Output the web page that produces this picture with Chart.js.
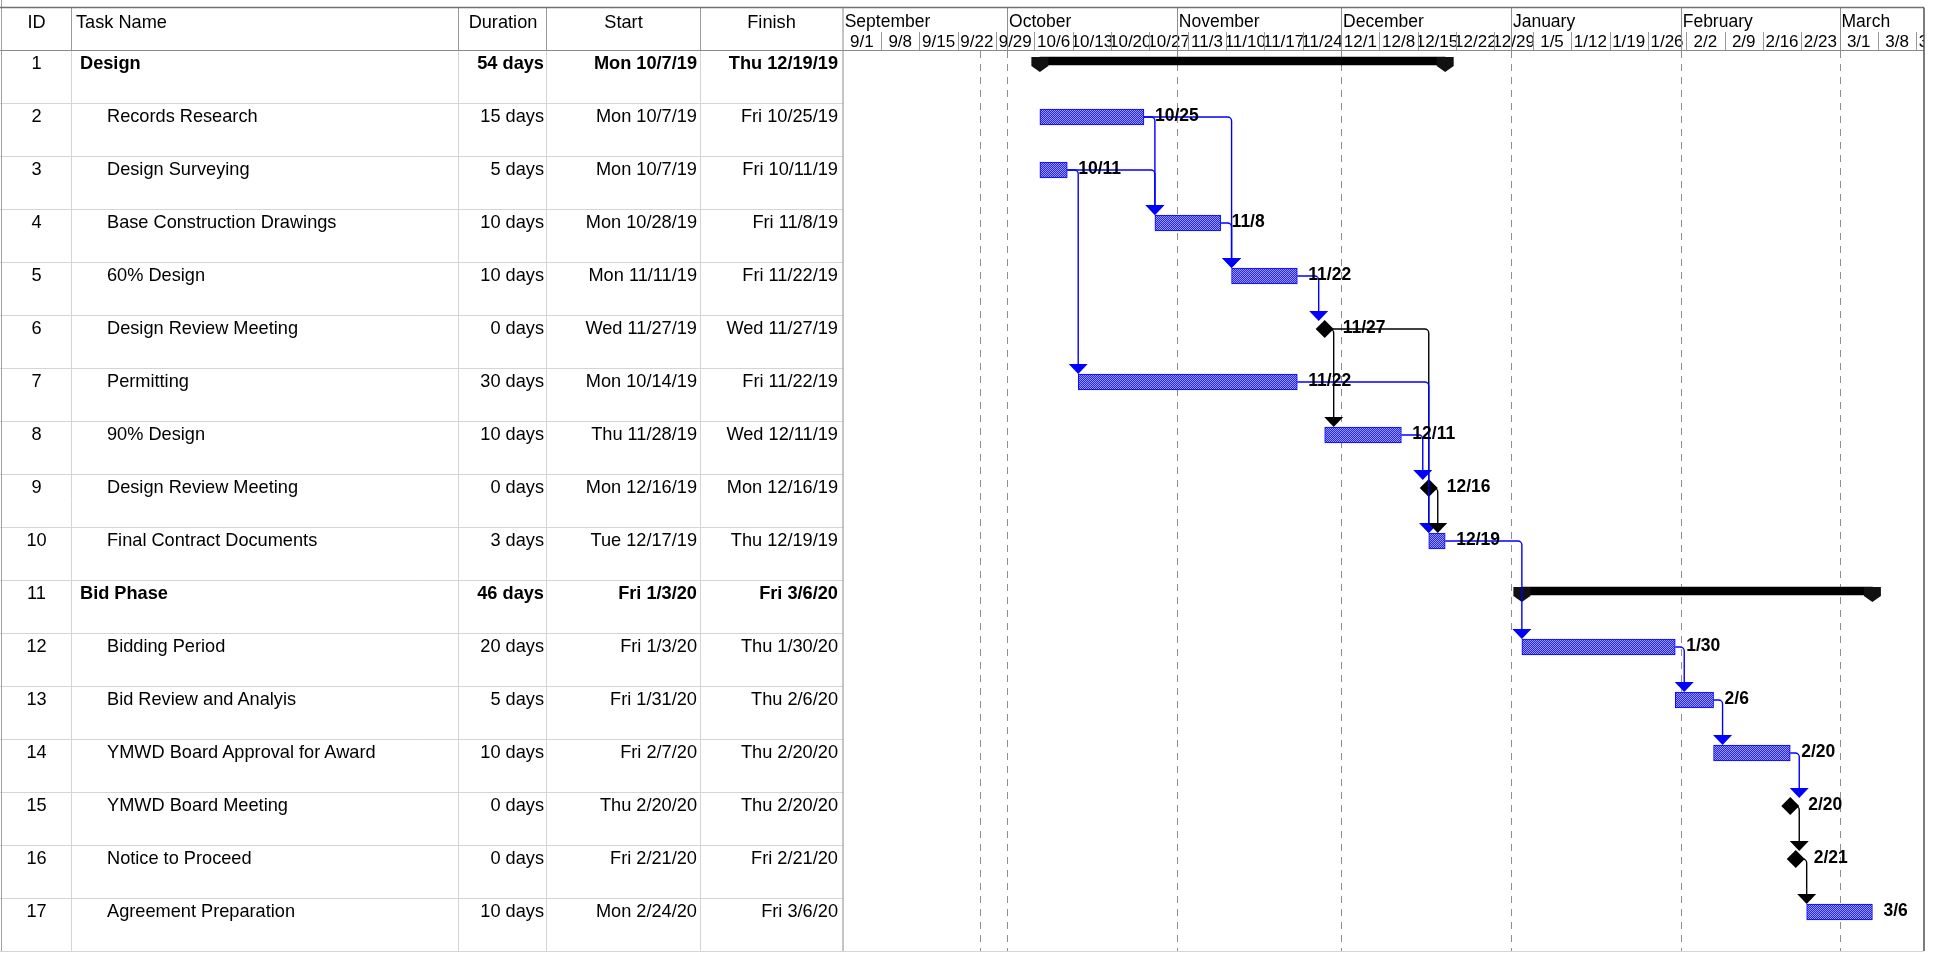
<!DOCTYPE html>
<html>
<head>
<meta charset="utf-8">
<title>Design and Bid Phase Schedule</title>
<script src="https://cdn.jsdelivr.net/npm/chart.js@4.4.1/dist/chart.umd.min.js"></script>
<style>
  html, body { margin: 0; padding: 0; background: #fff; }
  #wrap { position: relative; width: 1936px; height: 953px; overflow: hidden;
          font-family: "Liberation Sans", Arial, sans-serif; }
  #gantt { position: absolute; left: 0; top: 0; }
  .cell { position: absolute; height: 24px; line-height: 24px; font-size: 18.2px;
          color: #000; white-space: nowrap; }
  .b { font-weight: bold; }
</style>
</head>
<body>
<div id="wrap">
  <canvas id="gantt" width="1936" height="953"></canvas>
  <div id="sheet"></div>
</div>
<script>
// ---- Task sheet ----
const taskIds = [1, 2, 3, 4, 5, 6, 7, 8, 9, 10, 11, 12, 13, 14, 15, 16, 17];
const taskNames = [
  'Design', 'Records Research', 'Design Surveying', 'Base Construction Drawings',
  '60% Design', 'Design Review Meeting', 'Permitting', '90% Design',
  'Design Review Meeting', 'Final Contract Documents', 'Bid Phase', 'Bidding Period',
  'Bid Review and Analyis', 'YMWD Board Approval for Award', 'YMWD Board Meeting',
  'Notice to Proceed', 'Agreement Preparation'
];
const outlineLevels = [1, 2, 2, 2, 2, 2, 2, 2, 2, 2, 1, 2, 2, 2, 2, 2, 2];
const durationDays = [54, 15, 5, 10, 10, 0, 30, 10, 0, 3, 46, 20, 5, 10, 0, 0, 10];
const startDates = [
  '2019-10-07', '2019-10-07', '2019-10-07', '2019-10-28', '2019-11-11', '2019-11-27',
  '2019-10-14', '2019-11-28', '2019-12-16', '2019-12-17', '2020-01-03', '2020-01-03',
  '2020-01-31', '2020-02-07', '2020-02-20', '2020-02-21', '2020-02-24'
];
const finishDates = [
  '2019-12-19', '2019-10-25', '2019-10-11', '2019-11-08', '2019-11-22', '2019-11-27',
  '2019-11-22', '2019-12-11', '2019-12-16', '2019-12-19', '2020-03-06', '2020-01-30',
  '2020-02-06', '2020-02-20', '2020-02-20', '2020-02-21', '2020-03-06'
];

// ---- Finish-to-start dependencies (drawn in this order) ----
const linkFrom = [2, 3, 2, 4, 3, 5, 6, 6, 7, 8, 9, 10, 12, 13, 14, 15, 16];
const linkTo   = [4, 4, 5, 5, 7, 6, 8, 10, 10, 9, 10, 12, 13, 14, 15, 16, 17];

// ---- Timescale ----
const timescaleStart = '2019-09-01';
const timescaleEnd = '2020-03-16';
const currentDate = '2019-09-26';
const monthStarts = ['2019-09-01', '2019-10-01', '2019-11-01', '2019-12-01',
                     '2020-01-01', '2020-02-01', '2020-03-01'];
const monthLabels = ['September', 'October', 'November', 'December', 'January', 'February', 'March'];
const weekLabels = ['9/1', '9/8', '9/15', '9/22', '9/29', '10/6', '10/13', '10/20', '10/27',
                    '11/3', '11/10', '11/17', '11/24', '12/1', '12/8', '12/15', '12/22', '12/29',
                    '1/5', '1/12', '1/19', '1/26', '2/2', '2/9', '2/16', '2/23', '3/1', '3/8', '3/15'];

// ---- Layout ----
const W = 1936, H = 953;
const TOP_LINE = 7.5, HEADER_BOTTOM = 50, ROW_H = 53, BAR_OFFSET = 14;
const CHART_LEFT = 842.7, CHART_RIGHT = 1921.7, FRAME_RIGHT = 1924;
const TABLE_BOTTOM = HEADER_BOTTOM + ROW_H * taskIds.length;
const COL_LINES = [71.5, 458.5, 546.5, 700.5];
const FONT = '"Liberation Sans", Arial, sans-serif';
const BLUE = '#0000ff';

function parseISO(s) { const p = s.split('-').map(Number); return Date.UTC(p[0], p[1] - 1, p[2]); }
function toDay(s) { return (parseISO(s) - parseISO(timescaleStart)) / 86400000; }
function shortDate(s) { const d = new Date(parseISO(s)); return (d.getUTCMonth() + 1) + '/' + d.getUTCDate(); }
function sheetDate(s) {
  const d = new Date(parseISO(s));
  const wd = ['Sun', 'Mon', 'Tue', 'Wed', 'Thu', 'Fri', 'Sat'][d.getUTCDay()];
  return wd + ' ' + (d.getUTCMonth() + 1) + '/' + d.getUTCDate() + '/' + String(d.getUTCFullYear()).slice(2);
}

const isSummary = outlineLevels.map((lv, i) => i + 1 < outlineLevels.length && outlineLevels[i + 1] > lv);
const isMilestone = durationDays.map(d => d === 0);
const rowLabels = taskIds.map(String);

const taskBars = taskIds.map((id, i) =>
  (!isSummary[i] && !isMilestone[i]) ? [toDay(startDates[i]), toDay(finishDates[i]) + 1] : null);
const summaryBars = taskIds.map((id, i) =>
  isSummary[i] ? { x: [toDay(startDates[i]), toDay(finishDates[i]) + 1], y: i } : null).filter(Boolean);
const milestonePoints = taskIds.map((id, i) =>
  isMilestone[i] ? { x: toDay(finishDates[i]) + 1, y: String(id) } : null).filter(Boolean);

// ---- Task sheet text (left side) ----
(function buildSheet() {
  const sheet = document.getElementById('sheet');
  function cell(text, left, top, width, align, bold) {
    const d = document.createElement('div');
    d.className = 'cell' + (bold ? ' b' : '');
    d.style.left = left + 'px';
    d.style.top = top + 'px';
    if (width) d.style.width = width + 'px';
    d.style.textAlign = align;
    d.textContent = text;
    sheet.appendChild(d);
  }
  cell('ID', 2, 10, 69, 'center');
  cell('Task Name', 76, 10, 0, 'left');
  cell('Duration', 459, 10, 88, 'center');
  cell('Start', 547, 10, 153, 'center');
  cell('Finish', 700, 10, 143, 'center');
  taskIds.forEach((id, i) => {
    const top = HEADER_BOTTOM + ROW_H * i + 1;
    const b = isSummary[i];
    cell(String(id), 2, top, 69, 'center');
    cell(taskNames[i], outlineLevels[i] === 1 ? 80 : 107, top, 0, 'left', b);
    cell(durationDays[i] + ' days', 459, top, 85, 'right', b);
    cell(sheetDate(startDates[i]), 547, top, 150, 'right', b);
    cell(sheetDate(finishDates[i]), 700, top, 138, 'right', b);
  });
})();

// ---- Bar fill pattern (fine checker) ----
const canvas = document.getElementById('gantt');
const ctx0 = canvas.getContext('2d');
function makeHatch() {
  const t = document.createElement('canvas');
  t.width = 2; t.height = 2;
  const c = t.getContext('2d');
  c.fillStyle = '#2222f4'; c.fillRect(0, 0, 2, 2);
  c.fillStyle = '#9c9cff'; c.fillRect(0, 0, 1, 1); c.fillRect(1, 1, 1, 1);
  return ctx0.createPattern(t, 'repeat');
}

// ---- Frame, table grid and timescale header ----
const framePlugin = {
  id: 'frame',
  beforeDatasetsDraw(chart) {
    const ctx = chart.ctx, xs = chart.scales.x;
    ctx.save();
    function line(x1, y1, x2, y2, color, w) {
      ctx.strokeStyle = color; ctx.lineWidth = w || 1;
      ctx.beginPath(); ctx.moveTo(x1, y1); ctx.lineTo(x2, y2); ctx.stroke();
    }
    // row separators of the sheet
    for (let i = 1; i <= taskIds.length; i++) {
      const y = HEADER_BOTTOM + ROW_H * i + 0.5;
      line(0, y, CHART_LEFT, y, '#d4d4d4');
    }
    line(0, TABLE_BOTTOM + 0.5, FRAME_RIGHT, TABLE_BOTTOM + 0.5, '#d4d4d4');
    // sheet columns
    COL_LINES.forEach(x => {
      line(x, TOP_LINE, x, HEADER_BOTTOM, '#9a9a9a');
      line(x, HEADER_BOTTOM, x, TABLE_BOTTOM, '#d4d4d4');
    });
    line(1.5, 0, 1.5, TABLE_BOTTOM, '#a0a0a0');
    // dashed gridlines: month starts and current date
    ctx.setLineDash([7, 6]);
    const gridDays = monthStarts.slice(1).map(toDay).concat([toDay(currentDate)]);
    gridDays.forEach(d => {
      const x = Math.round(xs.getPixelForValue(d)) + 0.5;
      line(x, HEADER_BOTTOM + 1, x, TABLE_BOTTOM, '#8e8e8e');
    });
    ctx.setLineDash([]);
    // timescale header
    const weekX = weekLabels.map((l, i) => xs.getPixelForValue(7 * i));
    ctx.font = '17px ' + FONT;
    ctx.fillStyle = '#000';
    ctx.textBaseline = 'middle';
    weekLabels.forEach((lab, i) => {
      const x0 = weekX[i];
      const x1 = i + 1 < weekX.length ? weekX[i + 1] : xs.getPixelForValue(7 * (i + 1));
      if (i > 0) line(Math.round(x0) + 0.5, 32, Math.round(x0) + 0.5, HEADER_BOTTOM, '#9a9a9a');
      ctx.save();
      ctx.beginPath();
      ctx.rect(x0 + 1, 30, Math.min(x1, FRAME_RIGHT) - x0 - 1, 20);
      ctx.clip();
      ctx.textAlign = 'center';
      ctx.fillText(lab, (x0 + x1) / 2, 42);
      ctx.restore();
    });
    ctx.font = '17.5px ' + FONT;
    monthStarts.forEach((m, i) => {
      const x = xs.getPixelForValue(toDay(m));
      if (i > 0) line(Math.round(x) + 0.5, TOP_LINE, Math.round(x) + 0.5, HEADER_BOTTOM, '#8e8e8e');
      ctx.save();
      ctx.beginPath();
      ctx.rect(x, 8, FRAME_RIGHT - x, 24);
      ctx.clip();
      ctx.textAlign = 'left';
      ctx.fillText(monthLabels[i], x + 2, 22);
      ctx.restore();
    });
    // outer lines
    line(0, TOP_LINE, FRAME_RIGHT, TOP_LINE, '#707070', 1.5);
    line(0, HEADER_BOTTOM + 0.5, FRAME_RIGHT, HEADER_BOTTOM + 0.5, '#8a8a8a');
    line(CHART_LEFT + 0.3, TOP_LINE, CHART_LEFT + 0.3, TABLE_BOTTOM, '#8a8a8a');
    line(FRAME_RIGHT, TOP_LINE, FRAME_RIGHT, TABLE_BOTTOM, '#505050', 1.5);
    ctx.restore();
  }
};

// ---- Summary end caps, dependency links and finish-date labels ----
const overlayPlugin = {
  id: 'overlay',
  afterDatasetsDraw(chart) {
    const ctx = chart.ctx;
    const barMeta = chart.getDatasetMeta(0);
    const sumMeta = chart.getDatasetMeta(1);
    const msMeta = chart.getDatasetMeta(2);
    ctx.save();

    // summary caps
    sumMeta.data.forEach(el => {
      [el.base, el.x].forEach(cx => {
        const top = el.y - 4;
        ctx.fillStyle = '#111';
        ctx.beginPath();
        ctx.moveTo(cx - 8.5, top);
        ctx.lineTo(cx + 8.5, top);
        ctx.lineTo(cx + 8.5, el.y + 5);
        ctx.lineTo(cx, el.y + 11);
        ctx.lineTo(cx - 8.5, el.y + 5);
        ctx.closePath();
        ctx.fill();
      });
    });

    // geometry of each task's mark
    const msIndex = {};
    milestonePoints.forEach((p, k) => { msIndex[p.y] = k; });
    function mark(id) {
      const i = taskIds.indexOf(id);
      if (isMilestone[i]) {
        const el = msMeta.data[msIndex[String(id)]];
        return { ms: true, end: el.x, start: el.x - 6, y: el.y, top: el.y - 8 };
      }
      const el = barMeta.data[i];
      return { ms: false, end: el.x, start: el.base, y: el.y, top: el.y - 8 };
    }

    // links
    const AW = 19, AH = 10, R = 4;
    linkFrom.forEach((f, k) => {
      const a = mark(f), b = mark(linkTo[k]);
      const color = a.ms ? '#000' : BLUE;
      const xv = Math.max(b.start, a.end + 9);
      ctx.strokeStyle = color; ctx.fillStyle = color; ctx.lineWidth = 1.4;
      ctx.beginPath();
      ctx.moveTo(a.end, a.y);
      ctx.arcTo(xv, a.y, xv, b.top, R);
      ctx.lineTo(xv, b.top - AH + 1);
      ctx.stroke();
      ctx.beginPath();
      ctx.moveTo(xv - AW / 2, b.top - AH);
      ctx.lineTo(xv + AW / 2, b.top - AH);
      ctx.lineTo(xv, b.top);
      ctx.closePath();
      ctx.fill();
    });

    // finish-date labels
    ctx.font = 'bold 17.5px ' + FONT;
    ctx.fillStyle = '#000';
    ctx.textBaseline = 'middle';
    ctx.textAlign = 'left';
    taskIds.forEach((id, i) => {
      if (isSummary[i]) return;
      const m = mark(id);
      ctx.fillText(shortDate(finishDates[i]), m.end + (m.ms ? 18 : 11), m.y - 1);
    });
    ctx.restore();
  }
};

new Chart(canvas, {
  data: {
    labels: rowLabels,
    datasets: [
      {
        type: 'bar', label: 'Task', data: taskBars,
        xAxisID: 'x', yAxisID: 'y',
        backgroundColor: makeHatch(), borderColor: BLUE, borderWidth: 1,
        borderSkipped: false, barThickness: 16, grouped: false
      },
      {
        type: 'bar', label: 'Summary', data: summaryBars,
        xAxisID: 'x', yAxisID: 'y2',
        backgroundColor: '#000', borderWidth: 0,
        barThickness: 8, grouped: false
      },
      {
        type: 'scatter', label: 'Milestone', data: milestonePoints,
        xAxisID: 'x', yAxisID: 'y',
        pointStyle: 'rectRot', radius: 9, hoverRadius: 9,
        backgroundColor: '#000', borderColor: '#000', borderWidth: 0
      }
    ]
  },
  options: {
    indexAxis: 'y',
    responsive: false,
    animation: false,
    events: [],
    layout: {
      padding: {
        left: CHART_LEFT,
        right: W - CHART_RIGHT,
        top: HEADER_BOTTOM + BAR_OFFSET - ROW_H / 2,
        bottom: H - (HEADER_BOTTOM + BAR_OFFSET - ROW_H / 2 + ROW_H * taskIds.length)
      }
    },
    scales: {
      x: { type: 'linear', min: 0, max: toDay(timescaleEnd), display: false },
      y: { type: 'category', labels: rowLabels, offset: true, display: false },
      y2: {
        type: 'linear', reverse: true, offset: false, display: false,
        min: -0.5 + 3 / ROW_H, max: taskIds.length - 0.5 + 3 / ROW_H
      }
    },
    plugins: { legend: { display: false }, tooltip: { enabled: false } }
  },
  plugins: [framePlugin, overlayPlugin]
});
</script>
</body>
</html>
